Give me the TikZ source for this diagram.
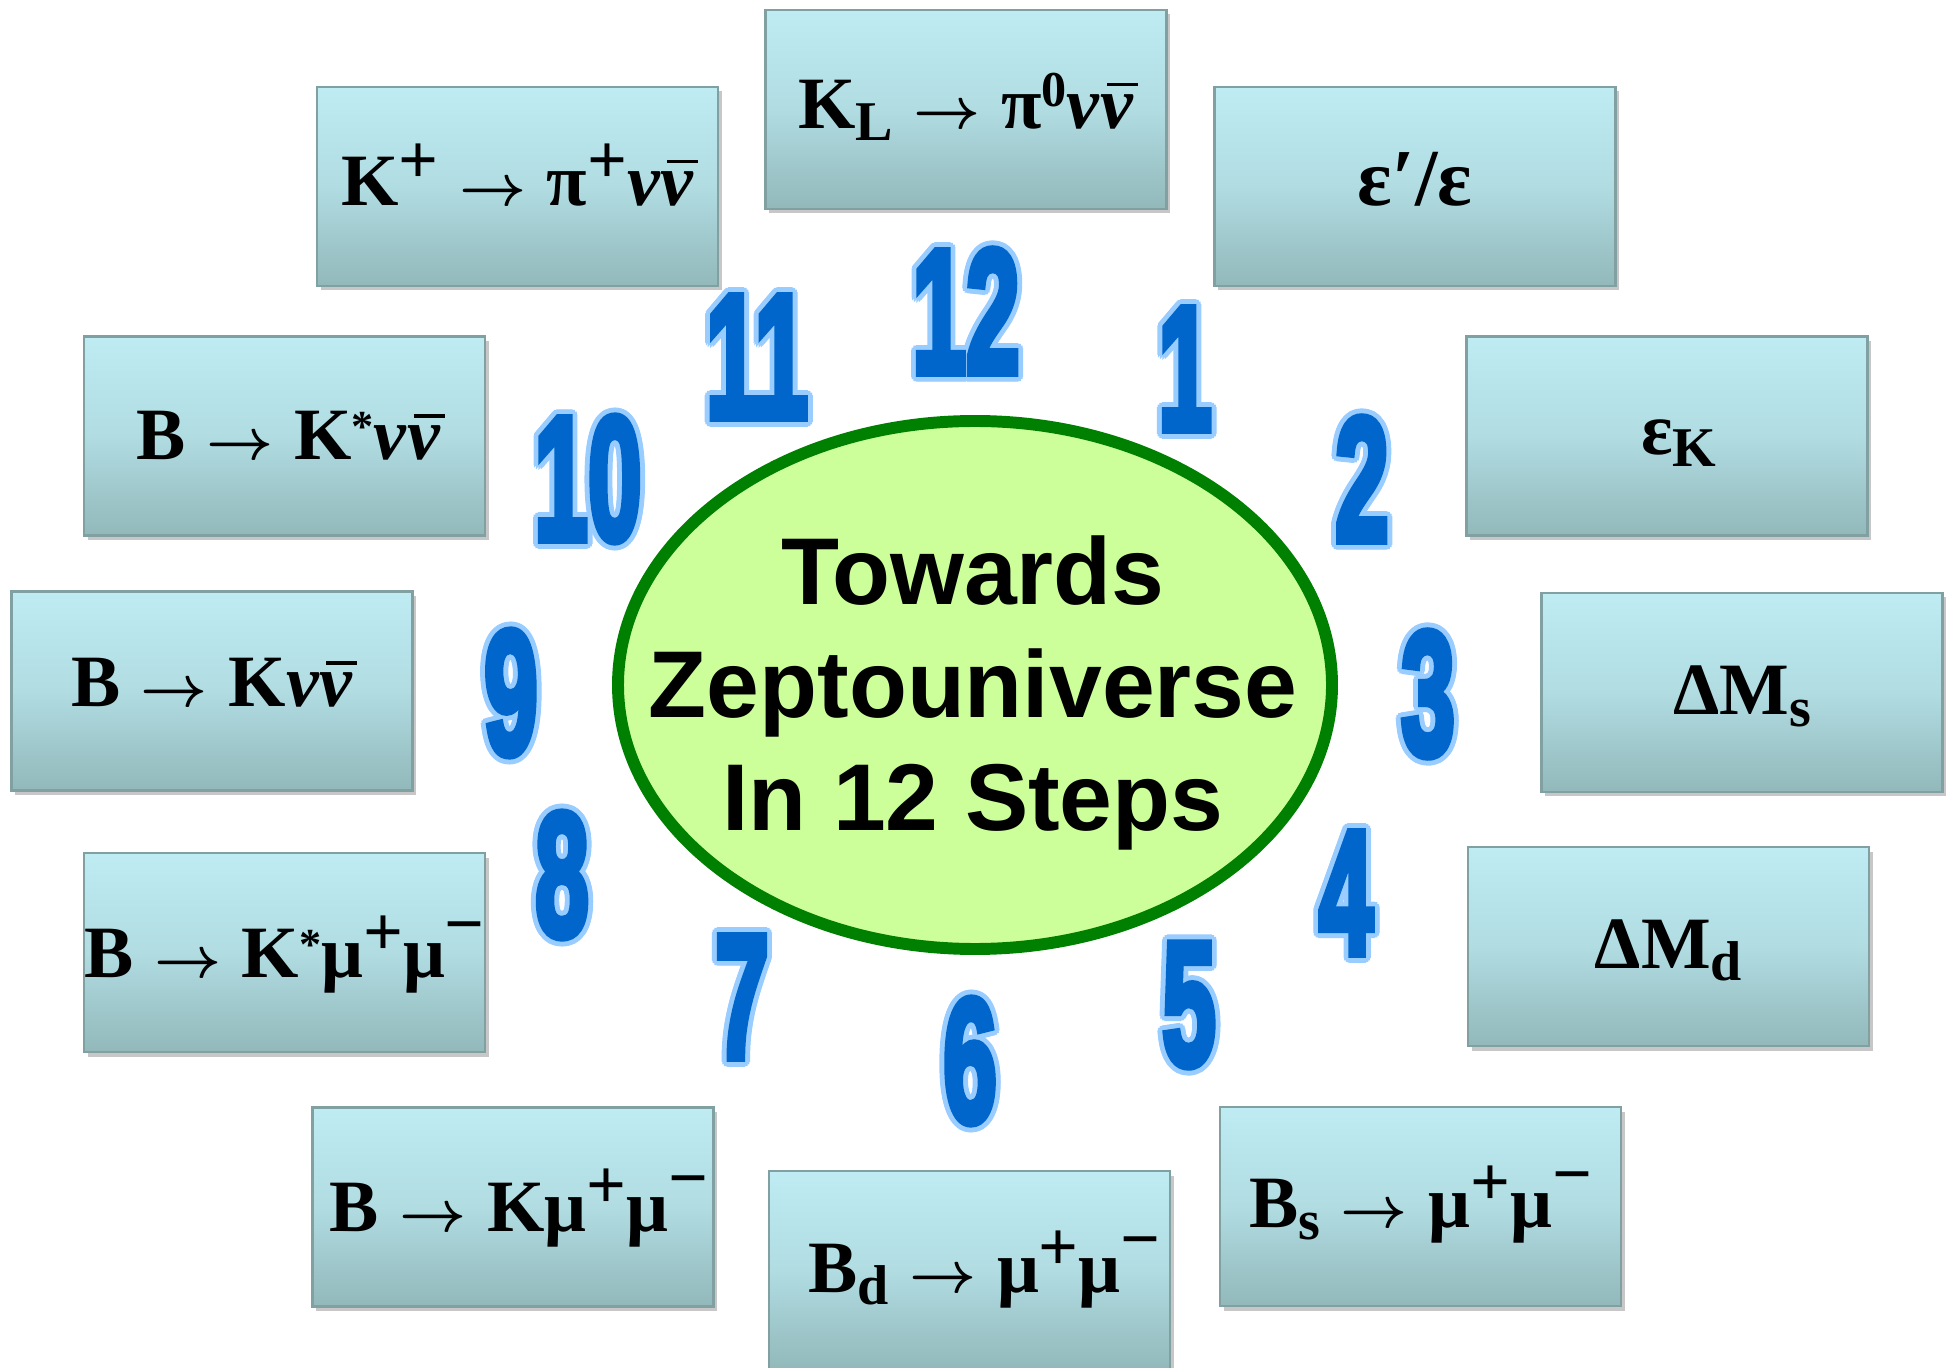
\documentclass[tikz,border=0pt]{standalone}
\usepackage{fontspec}
\usepackage{graphicx}
\setmainfont{Liberation Serif}
\newfontfamily\titlefont{Liberation Sans}
\newfontfamily\numfont{Liberation Sans}[FakeBold=5]
\usetikzlibrary{shapes.geometric,shadows}

\definecolor{boxtop}{RGB}{190,236,242}
\definecolor{boxmid}{RGB}{176,220,226}
\definecolor{boxbot}{RGB}{146,184,186}
\definecolor{boxedge}{RGB}{128,160,162}
\definecolor{ellfill}{RGB}{204,255,153}
\definecolor{ellline}{RGB}{0,128,0}
\definecolor{numblue}{RGB}{0,102,204}
\definecolor{numhalo}{RGB}{153,204,255}

% label helpers
\newcommand\supp{\raisebox{0.30em}{\scalebox{0.95}{+}}}
\newcommand\supm{\raisebox{0.40em}{\scalebox{0.95}{−}}}
\newcommand\supz{\raisebox{0.30em}{\scalebox{0.68}{0}}}
\newcommand\supstar{\raisebox{0.25em}{\scalebox{0.6}{*}}}
\newcommand\subs[1]{\raisebox{-0.16em}{\scalebox{0.76}{#1}}}
\newcommand\arr{\kern0.28em\scalebox{0.8}{\boldmath$\rightarrow$}\kern0.28em}
\newcommand\gnu{\textit{ν}}
\newcommand\nubar{\rlap{\hspace{0.09em}\raisebox{0.57em}{\rule{0.42em}{0.05em}}}\textit{ν}}

% clock number with light halo, all in one text
\newcommand\hcopy[3]{\rlap{\hspace*{#1}\raisebox{#2}{\textcolor{numhalo}{#3}}}}
\newcommand\halotext[1]{%
  \foreach \dx/\dy in {1.4/0,1.21/0.7,0.7/1.21,0/1.4,-0.7/1.21,-1.21/0.7,-1.4/0,-1.21/-0.7,-0.7/-1.21,0/-1.4,0.7/-1.21,1.21/-0.7}{\hcopy{\dx pt}{\dy pt}{#1}}%
  #1}

\tikzset{
  stepbox/.style={rectangle, minimum width=40.1mm, minimum height=19.9mm,
    inner sep=0pt, top color=boxtop, bottom color=boxbot, middle color=boxmid,
    draw=boxedge, line width=0.6pt,
    drop shadow={shadow xshift=0.35mm, shadow yshift=-0.45mm, fill=black, opacity=0.22}},
  boxlabel/.style={inner sep=0pt, anchor=base, font=\bfseries\fontsize{21}{24}\selectfont},
  numstyle/.style={inner sep=0pt, text=numblue, font=\numfont\bfseries\fontsize{50}{50}\selectfont},
  titlestyle/.style={inner sep=0pt, align=center, font=\titlefont\bfseries\fontsize{27}{32.2}\selectfont},
}
\newcommand\clocknum[3]{\node[numstyle] (#1) at (#2) {\halotext{\scalebox{0.55}[1]{#3}}};}

\begin{document}
\begin{tikzpicture}[x=0.1mm, y=-0.1mm]
\useasboundingbox[fill=white] (0,0) rectangle (1950,1368);

% boxes (clockwise from 12)
\node[stepbox] (b12) at (966,109.5) {};
\node[boxlabel] (t12) at ([yshift=-1.9mm]b12.center) {K\subs{L}\arr π\supz\gnu\nubar};
\node[stepbox] (b1) at (1415,186.5) {};
\node[boxlabel, font=\bfseries\fontsize{23}{26}\selectfont] (t1) at ([yshift=-1.9mm]b1.center) {ε′/ε};
\node[stepbox] (b2) at (1667,436) {};
\node[boxlabel] (t2) at ([xshift=1.2mm,yshift=-1.9mm]b2.center) {ε\subs{K}};
\node[stepbox] (b3) at (1742,692.5) {};
\node[boxlabel] (t3) at ([yshift=-2.2mm]b3.center) {ΔM\subs{s}};
\node[stepbox] (b4) at (1668.5,946.5) {};
\node[boxlabel] (t4) at ([yshift=-2.2mm]b4.center) {ΔM\subs{d}};
\node[stepbox] (b5) at (1420.5,1206.5) {};
\node[boxlabel] (t5) at ([yshift=-2.1mm]b5.center) {B\subs{s}\arr μ\supp μ\supm};
\node[stepbox] (b6) at (969.5,1270.5) {};
\node[boxlabel] (t6) at ([xshift=1.5mm,yshift=-2.2mm]b6.center) {B\subs{d}\arr μ\supp μ\supm};
\node[stepbox] (b7) at (513,1207) {};
\node[boxlabel] (t7) at ([xshift=0.6mm,yshift=-2.4mm]b7.center) {B\arr Kμ\supp μ\supm};
\node[stepbox] (b8) at (284.5,952.5) {};
\node[boxlabel] (t8) at ([yshift=-2.5mm]b8.center) {B\arr K\supstar μ\supp μ\supm};
\node[stepbox] (b9) at (212,691) {};
\node[boxlabel] (t9) at ([yshift=-1.6mm]b9.center) {B\arr K\gnu\nubar};
\node[stepbox] (b10) at (284.5,436) {};
\node[boxlabel] (t10) at ([xshift=0.4mm,yshift=-2.4mm]b10.center) {B\arr K\supstar\gnu\nubar};
\node[stepbox] (b11) at (517.5,186.5) {};
\node[boxlabel] (t11) at ([yshift=-1.9mm]b11.center) {K\supp\arr π\supp\gnu\nubar};

% central ellipse
\node[ellipse, draw=ellline, fill=ellfill, line width=3.4pt,
      minimum width=71.4mm, minimum height=52.8mm, inner sep=0pt] (hub) at (975,685) {};
\node[titlestyle] (title) at (973,693) {Towards\\Zeptouniverse\\In 12 Steps};

% clock numbers
\clocknum{n12}{966,311}{12}
\clocknum{n1}{1185,369}{1}
\clocknum{n2}{1362,479}{2}
\clocknum{n3}{1428,694}{3}
\clocknum{n4}{1346,893}{4}
\clocknum{n5}{1189,1005}{5}
\clocknum{n6}{970,1061}{6}
\clocknum{n7}{742,997}{7}
\clocknum{n8}{562,875}{8}
\clocknum{n9}{511,693}{9}
\clocknum{n10}{588,479}{10}
\clocknum{n11}{757,357}{11}
\end{tikzpicture}
\end{document}
